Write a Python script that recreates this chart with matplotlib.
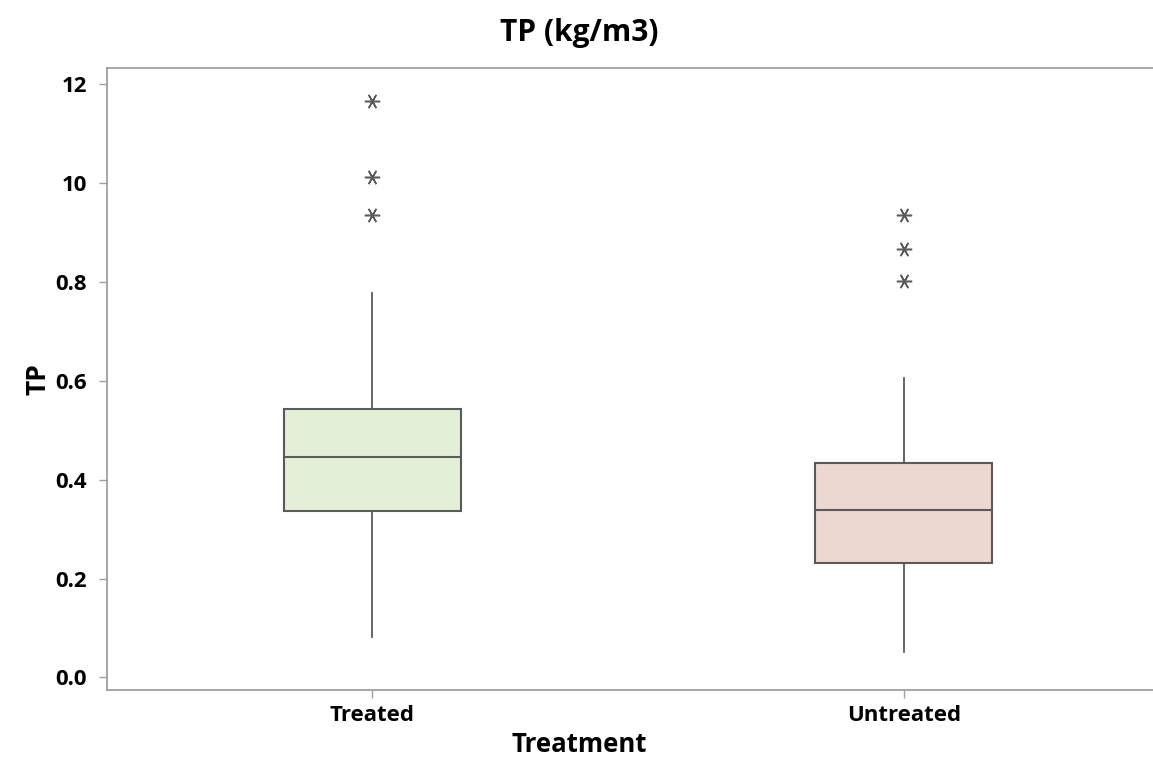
import matplotlib
matplotlib.use("Agg")
import matplotlib.pyplot as plt

plt.rcParams['font.family'] = ['Open Sans', 'DejaVu Sans']

# five-number summaries per group, plus the flagged outliers
groups = ['Treated', 'Untreated']
whisker_low = [0.081, 0.052]
q1 = [0.337, 0.231]
median = [0.445, 0.339]
q3 = [0.543, 0.433]
whisker_high = [0.777, 0.605]
outliers = [[1.167, 1.013, 0.936], [0.936, 0.868, 0.803]]
fills = ['#e3f0d7', '#edd7d1']

y_ticks = [0.0, 0.2, 0.4, 0.6, 0.8, 1.0, 1.2]
y_tick_labels = ['0.0', '0.2', '0.4', '0.6', '0.8', '10', '12']

stats = []
for i, g in enumerate(groups):
    stats.append({
        'label': g,
        'whislo': whisker_low[i],
        'q1': q1[i],
        'med': median[i],
        'q3': q3[i],
        'whishi': whisker_high[i],
        'fliers': outliers[i],
    })

fig = plt.figure(figsize=(11.53, 7.58), dpi=100)
ax = fig.add_axes([0.0925, 0.0897, 0.9075, 0.8206])

edge = '#5a5a5a'
bp = ax.bxp(stats, positions=[0, 1], widths=0.333, patch_artist=True,
            showcaps=False,
            boxprops=dict(edgecolor=edge, linewidth=1.5),
            medianprops=dict(color=edge, linewidth=1.5),
            whiskerprops=dict(color=edge, linewidth=1.3),
            flierprops=dict(marker=(6, 2, 90), markersize=11,
                            markeredgecolor=edge, markeredgewidth=1.1,
                            linestyle='none'))
for patch, c in zip(bp['boxes'], fills):
    patch.set_facecolor(c)

ax.set_xlim(-0.5, 1.469)
ax.set_ylim(-0.0257, 1.2334)

ax.set_yticks(y_ticks)
ax.set_yticklabels(y_tick_labels)
ax.set_xticks([0, 1])
ax.set_xticklabels(groups)

for sp in ['left', 'bottom', 'top']:
    ax.spines[sp].set_color('#a0a0a0')
    ax.spines[sp].set_linewidth(1.3)
ax.spines['right'].set_visible(False)

ax.tick_params(axis='both', colors='#a0a0a0', length=6, width=1,
               labelcolor='black', labelsize=16)
ax.tick_params(axis='y', pad=8)
ax.tick_params(axis='x', pad=5)
for lbl in ax.get_xticklabels() + ax.get_yticklabels():
    lbl.set_fontweight('bold')

fig.text(0.5027, 0.956, 'TP (kg/m3)', ha='center', va='center',
         fontsize=21.5, fontweight='bold')
fig.text(0.5027, 0.0172, 'Treatment', ha='center', va='center',
         fontsize=18.5, fontweight='bold')
fig.text(0.033, 0.5, 'TP', ha='center', va='center', rotation=90,
         fontsize=19, fontweight='bold')

fig.savefig('out.png', dpi=100, facecolor='white')
